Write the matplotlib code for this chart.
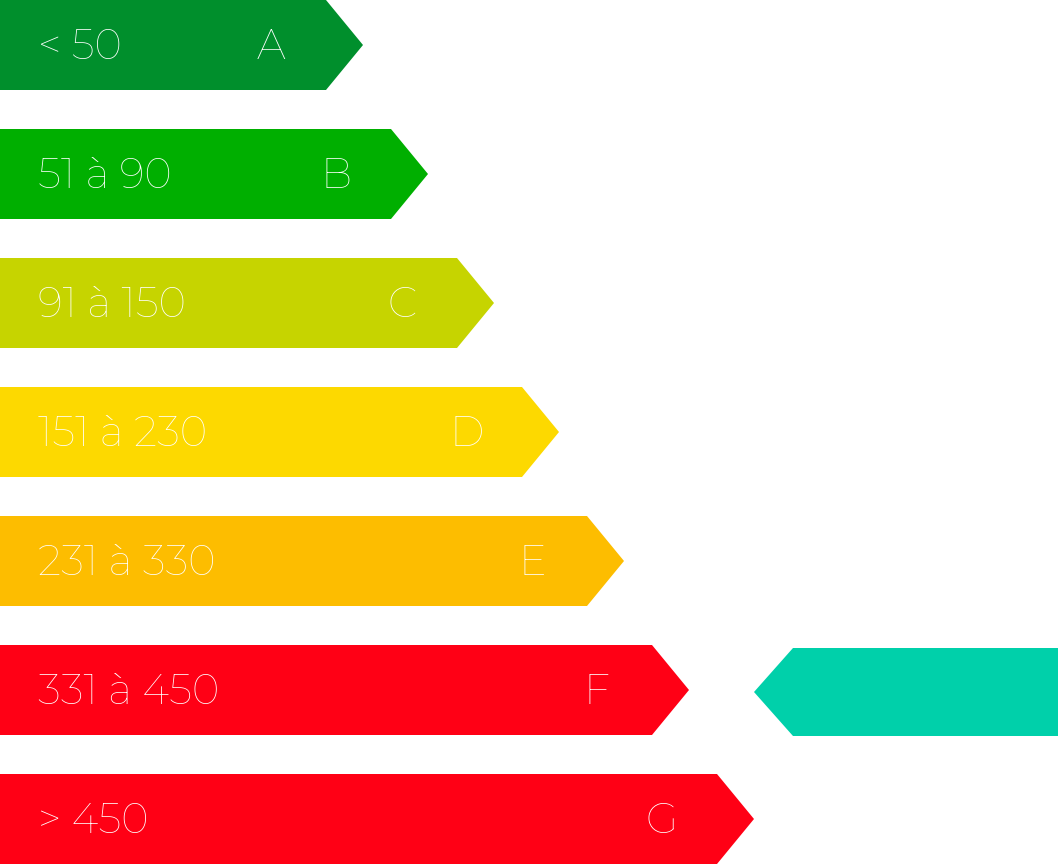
import matplotlib
matplotlib.use("Agg")
import matplotlib.pyplot as plt
from matplotlib.patches import Polygon

ranges = ["< 50", "51 à 90", "91 à 150", "151 à 230", "231 à 330", "331 à 450", "> 450"]
letters = ["A", "B", "C", "D", "E", "F", "G"]
bar_ends = [326, 391, 457, 522, 587, 652, 717]
colors = ["#008F2C", "#00AF00", "#C6D400", "#FDD900", "#FDBD00", "#FF0015", "#FF0015"]
current_class = "F"
indicator_color = "#00D0AA"

fig = plt.figure(figsize=(10.58, 8.68), dpi=100)
ax = fig.add_axes([0, 0, 1, 1])
ax.set_xlim(0, 1058)
ax.set_ylim(868, 0)
ax.axis("off")

pitch, h, tip = 129, 90, 37
font = dict(family=["Montserrat", "Open Sans", "DejaVu Sans"], fontweight="bold", color="white", fontsize=30)
for i, (r, l, e, c) in enumerate(zip(ranges, letters, bar_ends, colors)):
    y0 = i * pitch
    ax.add_patch(Polygon([(0, y0), (e, y0), (e + tip, y0 + h / 2), (e, y0 + h), (0, y0 + h)], closed=True, color=c, lw=0))
    ax.text(38, y0 + h / 2 + 2, r, va="center", ha="left", **font)
    ax.text(e - 55, y0 + h / 2 + 2, l, va="center", ha="center", **font)
    if l == current_class:
        yi = y0 + 3
        hi = 88
        ax.add_patch(Polygon([(793, yi), (1058, yi), (1058, yi + hi), (793, yi + hi), (754, yi + hi / 2)], closed=True, color=indicator_color, lw=0))

fig.savefig("out.png", dpi=100)
